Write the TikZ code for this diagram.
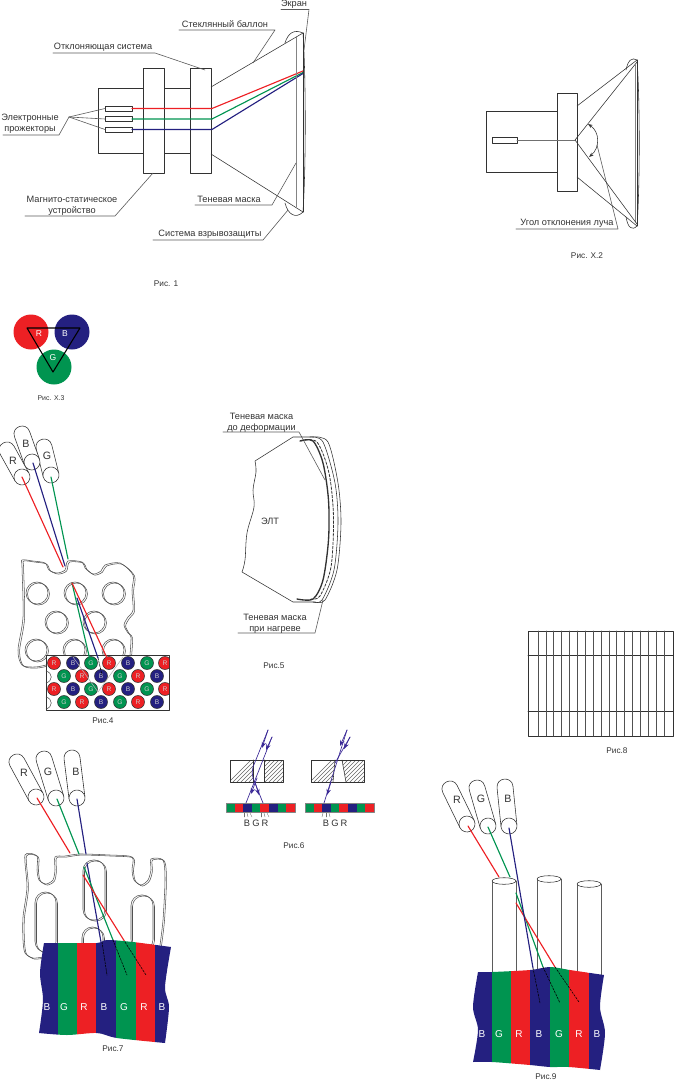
\documentclass[tikz,border=0pt]{standalone}
\usepackage{fontspec}
\setmainfont{Liberation Sans}
\usetikzlibrary{arrows.meta}
\definecolor{beamR}{RGB}{237, 32, 36}
\definecolor{beamG}{RGB}{0, 148, 80}
\definecolor{beamB}{RGB}{36, 32, 128}
\definecolor{Ray}{RGB}{58, 40, 150}
\definecolor{Ink}{RGB}{50, 50, 50}
\tikzset{
  wire/.style={draw=Ink, line width=.42pt},
  leader/.style={draw=Ink!80, line width=.45pt},
  beam/.style={line width=.85pt},
  maskline/.style={draw=Ink!85, line width=.4pt},
  hatchline/.style={draw=Ink!75, line width=.3pt},
  ticks/.style={draw=Ink!70, line width=.3pt},
  rayline/.style={draw=Ray, line width=.5pt},
  ray/.style={draw=Ray, line width=.5pt, -{Stealth[length=4.5pt]}},
  hit/.style={draw=black, line width=.42pt, dash pattern=on 1.6pt off .9pt},
  lbl/.style={text=Ink, font=\fontsize{6.9}{8}\selectfont, inner sep=0pt, align=center},
  figcap/.style={text=Ink, font=\fontsize{6.2}{8}\selectfont, inner sep=0pt},
  gunlbl/.style={text=Ink, font=\fontsize{8}{9}\selectfont, inner sep=0pt},
  stripelbl/.style={text=white, font=\fontsize{7.5}{9}\selectfont, inner sep=0pt},
  dotlbl/.style={text=white!80!black, font=\fontsize{5}{6}\selectfont, inner sep=0pt},
  triolbl/.style={text=white, font=\fontsize{6.4}{7}\selectfont, inner sep=0pt},
  gridline/.style={draw=Ink, line width=.5pt},
}
% gun: front x, front y, back x, back y
\newcommand{\gun}[4]{
  \pgfmathsetmacro{\ang}{atan2(#4-#2,#1-#3)}
  \pgfmathsetmacro{\len}{veclen(#1-#3,#2-#4)}
  \begin{scope}[shift={(#1,#2)}, rotate=\ang]
    \draw[wire, fill=white] (0,-8) -- (-\len,-8) .. controls (-\len-10.6,-8) and (-\len-10.6,8) .. (-\len,8) -- (0,8);
    \draw[wire, fill=white] (0,0) circle (8);
  \end{scope}
}
\begin{document}
\begin{tikzpicture}[>=Stealth, line cap=round, line join=round, x=.75pt, y=-.75pt]
  \path[use as bounding box] (0,0) rectangle (674,1081);

  % ---- Fig 1
  \draw[wire] (190,88) -- (98,88) -- (98,153) -- (190,153);
  \draw[wire, fill=white] (143,68) rectangle (164,173);
  \draw[wire, fill=white] (190,68) rectangle (211,173);
  \foreach \y in {106,116,127}
    \draw[wire, fill=white] (105,\y) rectangle (132,\y+5.5);
  \draw[beam, beamR] (132,108.5) -- (212,108.5) -- (303,71);
  \draw[beam, beamG] (132,119) -- (212,119) -- (303,72.5);
  \draw[beam, beamB] (132,129.5) -- (212,129.5) -- (303,73.5);
  \draw[wire] (211,87) -- (303,33);
  \draw[wire] (211,154) -- (303,212);
  \draw[wire] (303,33) -- (303,212);
  \draw[wire] (303,33) .. controls (306,80) and (306,165) .. (303,212);
  \draw[wire, draw=Ink!60] (296,37) -- (296,207);
  \draw[wire] (285,43) .. controls (288,33) and (294,29) .. (303,33);
  \draw[wire] (285,203) .. controls (288,215) and (296,219) .. (303,212);

  \node[lbl] (ekran) at (294,4) {Экран};
  \node[lbl] (ballon) at (225,24) {Стеклянный баллон};
  \node[lbl] (otkl) at (103,47) {Отклоняющая система};
  \node[lbl] (elpr) at (30,123.5) {Электронные\\прожекторы};
  \node[lbl] (magn) at (72,205.5) {Магнито-статическое\\устройство};
  \node[lbl] (mask) at (229,199) {Теневая маска};
  \node[lbl] (vzryv) at (210,234) {Система взрывозащиты};
  \node[figcap] (capa) at (166,284) {Рис. 1};

  % leaders: name, underline start, knee, end
  \foreach \nm/\ax/\ay/\bx/\by/\cx/\cy in {
      ekr/281/9.5/309/9.5/304/50,
      bal/179/30/275/30/253/63,
      otk/53/53/155/53/205/70,
      pro/3/135/59/135/69/117,
      mag/25/216/115/216/153/173,
      mas/195/205/272/205/296/163,
      vzr/153/240/263/240/288/210,
      ugl/516/229/618/229/597/145,
      defo/223/432/299/432/325/480,
      nagr/238/633/315/633/323/600}{
    \coordinate (\nm A) at (\ax,\ay);
    \coordinate (\nm B) at (\bx,\by);
    \coordinate (\nm C) at (\cx,\cy);
    \draw[leader] (\nm A) -- (\nm B) -- (\nm C);
  }
  \coordinate (proC) at (69,117);
  \foreach \y in {108.5,119,129.5}{
    \draw[leader] (proC) -- (105,\y);
  }

  % ---- Fig X.2
  \draw[wire] (557,111) -- (486,111) -- (486,172) -- (557,172);
  \draw[wire, fill=white] (557,93) rectangle (577,191);
  \draw[wire, fill=white] (492,137) rectangle (517,143);
  \draw[wire, draw=Ink!70] (517,140) -- (575,140);
  \draw[wire] (577,106) -- (637,60);
  \draw[wire] (577,177) -- (637,226);
  \draw[wire] (637,60) -- (637,226);
  \draw[wire] (637,60) .. controls (640,100) and (640,186) .. (637,226);
  \draw[wire, draw=Ink!60] (635,65) -- (635,222);
  \draw[wire] (575,140) -- (637,62);
  \draw[wire] (575,140) -- (637,224);
  \draw[wire] (626,70) .. controls (628,60) and (632,57) .. (637,60);
  \draw[wire] (626,217) .. controls (628,228) and (632,231) .. (637,226);
  \draw[wire, <->, >={Stealth[length=3.5pt]}] (588,124) .. controls (600,132) and (600,148) .. (589,157);
  \node[lbl] (ugol) at (567,223) {Угол отклонения луча};
  \node[figcap] (capb) at (587,256) {Рис. X.2};

  % ---- Fig X.3
  \fill[beamR] (31,332) circle (17.5);
  \fill[beamB] (72,332) circle (17.5);
  \fill[beamG] (54,367) circle (17.5);
  \draw[black, line width=.8pt] (27,328) -- (80,328) -- (53,372) -- cycle;
  \node[triolbl] (xr) at (39,334) {R};
  \node[triolbl] (xb) at (65,334) {B};
  \node[triolbl] (xg) at (53,358) {G};
  \node[figcap, font=\fontsize{5.2}{6}\selectfont] (capc) at (51,398) {Рис. X.3};

  % ---- Fig 4
  \def\maskfour{plot[smooth, tension=.5] coordinates {(46,665) (35,667) (22,665) (18,650) (23,617) (22,567) (22,560) (33,561) (45,563) (49,570) (57,573) (65,570) (68,561) (82,562) (85,568) (93,574) (101,571) (105,565) (120,563) (133,575) (132,590) (133,610) (128,617) (124,625) (128,633) (131,637) (130,655)}}
  \draw[maskline] \maskfour;
  \draw[maskline, xshift=1.2pt, yshift=-.8pt] \maskfour;
  \foreach \hx/\hy in {37/593, 75/593, 113/593, 56/622, 94/622, 36/650, 74/650, 113/650}{
    \draw[maskline] (\hx,\hy) circle (11);
    \draw[maskline] (\hx+1.5,\hy+1) circle (11);
  }
  \gun{22}{477}{7}{450}
  \gun{51}{475}{44}{447}
  \gun{32}{462}{22}{434}
  \node[gunlbl] (fr) at (13,461) {R};
  \node[gunlbl] (fb) at (26,444) {B};
  \node[gunlbl] (fg) at (47,456) {G};
  \draw[beam, beamR] (22,477) -- (63,567);
  \draw[beam, beamB] (33,463) -- (65,566);
  \draw[beam, beamG] (51,477) -- (68,559);
  \draw[wire, fill=white] (46,655) rectangle (169,710);
  \foreach \cy in {677,703}{
    \draw[maskline] (46,\cy-6) .. controls (53,\cy-4) and (53,\cy+4) .. (46,\cy+6);
  }
  \begin{scope}
    \clip (46,655) rectangle (169,710);
    \foreach \cy in {663,689}{
      \foreach \cx/\c in {54/R, 73/B, 91/G, 109/R, 128/B, 147/G, 165/R}{
        \draw[wire, fill=beam\c] (\cx,\cy) circle (6.5);
        \node[dotlbl] (d\cx-\cy) at (\cx,\cy) {\c};
      }
    }
    \foreach \cy in {676,702}{
      \foreach \cx/\c in {64/G, 82/R, 101/B, 120/G, 138/R, 157/B}{
        \draw[wire, fill=beam\c] (\cx,\cy) circle (6.5);
        \node[dotlbl] (d\cx-\cy) at (\cx,\cy) {\c};
      }
    }
  \end{scope}
  \draw[draw=white!70!black, line width=.4pt] (73,657) -- (98,692) -- (123,657);
  \draw[beam, beamG] (72,583) -- (90,660);
  \draw[beam, beamB] (77,598) -- (98,658);
  \draw[beam, beamR] (72,583) -- (108,660);
  \draw[hit] (98,658) -- (102,675);
  \node[figcap] (capd) at (103,721) {Рис.4};

  % ---- Fig 5
  \draw[wire] (313,437) -- (293,437) -- (255,461) plot[smooth, tension=.6] coordinates {(255,461) (256,472) (253,490) (254,507) (247,533) (245,560) (242,572)} -- (293,602) -- (315,602);
  \draw[wire] plot[smooth] coordinates {(313,437) (328,442) (338,483) (341,523) (337,570) (325,600) (315,602)};
  \draw[wire] plot[smooth] coordinates {(310,437) (323,442) (335,483) (338,523) (334,570) (322,600) (313,602)};
  \draw[Ink, line width=.6pt, dash pattern=on 2pt off 1.2pt] plot[smooth] coordinates {(301,441) (317,442) (329,473) (333.5,517) (331,567) (320,596) (311,599)};
  \draw[line width=1pt, Ink] plot[smooth] coordinates {(300,441) (313,441) (323,463) (328.5,500) (328.5,540) (323,580) (313,599) (297,599)};
  \node[lbl] (tma) at (261.5,422.5) {Теневая маска\\до деформации};
  \node[lbl] (elt) at (270,521) {ЭЛТ};
  \node[lbl] (tmb) at (275,624) {Теневая маска\\при нагреве};
  \node[figcap] (cape) at (274,666) {Рис.5};

  % ---- Fig 6
  \begin{scope}
    \clip (230,760) rectangle (253,782) (264,760) rectangle (283,782);
    \foreach \k in {0,...,17}
      \draw[hatchline] (226+4*\k,785) -- (256+4*\k,755);
  \end{scope}
  \begin{scope}
    \clip (311,760) -- (335,760) -- (333,782) -- (311,782) -- cycle (342,760) -- (364,760) -- (364,782) -- (346,782) -- cycle;
    \foreach \k in {0,...,17}
      \draw[hatchline] (307+4*\k,785) -- (337+4*\k,755);
  \end{scope}
  \draw[wire] (230,760) rectangle (283,782);
  \draw[wire] (253,760) -- (253,782) (264,760) -- (264,782);
  \draw[wire] (311,760) rectangle (364,782);
  \draw[wire] (335,760) -- (333,782) (342,760) -- (346,782);
  \foreach \x/\c in {0/G,1/R,2/B,3/G,4/R,5/B,6/G,7/R}{
    \fill[beam\c] (226+8.6*\x,803) rectangle (226+8.6*\x+8.6,812);
    \fill[beam\c] (305+8.6*\x,803) rectangle (305+8.6*\x+8.6,812);
  }
  \draw[draw=Ink!60, line width=.4pt] (226,803) rectangle (295,812) (305,803) rectangle (374,812);
  \foreach \f/\t in {244/244,247/248,250/252,261/261,264/265,267/269,323/322,326/326,329/330}{
    \draw[ticks] (\f,813) -- (\t,817);
  }
  \draw[rayline] (268,730) -- (253,767) .. controls (252,772) and (252,775) .. (253,778) -- (263,803);
  \draw[rayline] (272,737) -- (246,803);
  \draw[ray] (268,730) -- (262,748);
  \draw[ray] (272,737) -- (266,750);
  \draw[ray] (255,782) -- (259,795);
  \draw[ray] (257,778) -- (251,794);
  \draw[rayline] (347,730) -- (324,803);
  \draw[rayline] (350,737) -- (335,763);
  \draw[ray] (347,730) -- (340,746);
  \draw[ray] (350,737) -- (344,749);
  \draw[ray] (331,782) -- (327,795);
  \foreach \cx/\c/\nm in {247/B/a,256/G/b,265/R/c,326/B/d,335/G/e,344/R/f}{
    \node[text=Ink, font=\fontsize{7}{8}\selectfont, inner sep=0pt] (six\nm) at (\cx,823) {\c};
  }
  \node[figcap] (capf) at (294,846) {Рис.6};

  % ---- Fig 7
  \def\maskseven{plot[smooth, tension=.45] coordinates {(43,957) (33,958) (25,953) (23,940) (23,917) (27,887) (25,855) (37,856) (37,870) (39,880) (46,884) (53,880) (55,870) (55,857) (65,856) (80,854) (110,855) (132,857) (132,870) (134,880) (141,885) (148,880) (151,870) (151,859) (163,860) (165,880) (163,920) (160,945)}}
  \draw[maskline] \maskseven;
  \draw[maskline, xshift=1.1pt, yshift=-.8pt] \maskseven;
  \foreach \ax/\ay/\bx/\by in {83/860/105/920, 35/892/56/952, 131/895/153/950, 82/927/103/960}{
    \draw[maskline, rounded corners=7.8pt] (\ax,\ay) rectangle (\bx,\by);
    \draw[maskline, rounded corners=7.8pt] (\ax+1.5,\ay+1) rectangle (\bx+1.5,\by+1);
  }
  \gun{36}{797}{17}{762}
  \gun{56}{798}{44}{759}
  \gun{77}{798}{72}{758}
  \node[gunlbl] (sr) at (24,773) {R};
  \node[gunlbl] (sg) at (48,772) {G};
  \node[gunlbl] (sb) at (76,772) {B};
  \draw[beam, beamR] (37,798) -- (70,853);
  \draw[beam, beamG] (57,799) -- (79,854);
  \draw[beam, beamB] (77,799) -- (86,854);
  \draw[beam, beamB] (87,863) -- (101,942);
  \draw[beam, beamG] (84,867) -- (113,940);
  \draw[beam, beamR] (83,875) -- (125,942);
  \begin{scope}
    \clip plot[smooth, tension=.5] coordinates {(44,943) (67,943) (97,943) (107,940) (133,942) (171,947)}
      -- plot[smooth, tension=.5] coordinates {(171,947) (165,987) (169,1007) (165,1043)}
      -- plot[smooth, tension=.5] coordinates {(165,1043) (117,1038) (97,1033) (67,1035) (39,1033)}
      -- plot[smooth, tension=.5] coordinates {(39,1033) (43,1000) (40,973) (44,943)} -- cycle;
    \foreach \xa/\xb/\c in {30/58/B, 58/77/G, 77/96/R, 96/116/B, 116/136/G, 136/155/R, 155/180/B}{
      \fill[beam\c] (\xa,930) rectangle (\xb,1050);
    }
  \end{scope}
  \foreach \cx/\c/\nm in {47/B/a,64/G/b,84/R/c,104/B/d,124/G/e,144/R/f,162/B/g}{
    \node[stripelbl] (sev\nm) at (\cx,1007) {\c};
  }
  \draw[hit] (102,942) -- (107,975);
  \draw[hit] (113,940) -- (127,975);
  \draw[hit] (125,942) -- (146,975);
  \node[figcap] (capg) at (113,1049) {Рис.7};

  % ---- Fig 8
  \draw[gridline] (528,631) rectangle (673,736);
  \draw[gridline] (528,655) -- (673,655);
  \draw[gridline] (528,711) -- (673,711);
  \foreach \i in {0,...,16}{
    \draw[gridline, draw=Ink!85] (538+7.88*\i,631) -- (538+7.88*\i,736);
  }
  \node[figcap] (caph) at (617,751) {Рис.8};

  % ---- Fig 9
  \foreach \xa/\xb/\ty in {492/516/881, 537/561/879, 577/601/884}{
    \draw[wire, draw=Ink!80] (\xa,\ty) -- (\xa,980);
    \draw[wire, draw=Ink!80] (\xb,\ty) -- (\xb,980);
    \draw[wire, fill=white] ({(\xa+\xb)/2},\ty) ellipse [x radius=12, y radius=3.3];
  }
  \gun{467}{824}{450}{789}
  \gun{488}{826}{477}{788}
  \gun{509}{826}{505}{787}
  \node[gunlbl] (nr) at (457,800) {R};
  \node[gunlbl] (ng) at (481,799) {G};
  \node[gunlbl] (nb) at (508,799) {B};
  \draw[beam, beamR] (468,826) -- (499,877);
  \draw[beam, beamG] (488,827) -- (510,877);
  \draw[beam, beamG] (516,893) -- (543,967);
  \draw[beam, beamR] (516,903) -- (555,967);
  \draw[beam, beamB] (509,828) -- (533,968);
  \begin{scope}
    \clip plot[smooth, tension=.5] coordinates {(478,972) (492,972) (530,970) (550,967) (570,970) (604,975)}
      -- plot[smooth, tension=.5] coordinates {(604,975) (600,1007) (605,1033) (600,1070)}
      -- plot[smooth, tension=.5] coordinates {(600,1070) (569,1067) (550,1067) (530,1065) (492,1062) (473,1062)}
      -- plot[smooth, tension=.5] coordinates {(473,1062) (478,1030) (473,1007) (478,972)} -- cycle;
    \foreach \xa/\xb/\c in {465/492/B, 492/511/G, 511/530/R, 530/550/B, 550/569/G, 569/589/R, 589/610/B}{
      \fill[beam\c] (\xa,960) rectangle (\xb,1075);
    }
  \end{scope}
  \foreach \cx/\c/\nm in {482/B/a,499/G/b,519/R/c,539/B/d,559/G/e,579/R/f,597/B/g}{
    \node[stripelbl] (nin\nm) at (\cx,1034) {\c};
  }
  \draw[hit] (533,968) -- (540,1003);
  \draw[hit] (543,967) -- (560,1003);
  \draw[hit] (555,967) -- (579,1002);
  \node[figcap] (capi) at (546,1077) {Рис.9};
\end{tikzpicture}
\end{document}
